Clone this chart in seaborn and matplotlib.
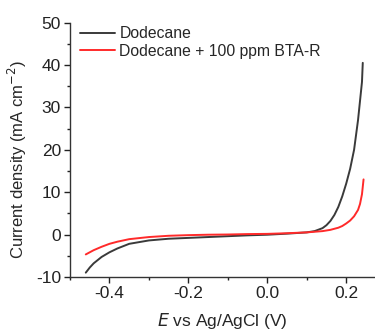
# Polarization curves: dodecane with and without BTA-R inhibitor

import numpy as np
import pandas as pd
import matplotlib
matplotlib.use("Agg")
import matplotlib.pyplot as plt
import seaborn as sns
from matplotlib.ticker import MultipleLocator

# Values
e_dodecane = [-0.46, -0.45, -0.44, -0.42, -0.40, -0.38, -0.35, -0.30, -0.25, -0.20, -0.15, -0.10, -0.05,
              0.00, 0.05, 0.10, 0.12, 0.14, 0.15, 0.16, 0.17, 0.18, 0.19, 0.20, 0.21, 0.22, 0.23, 0.24, 0.242]
j_dodecane = [-9.0, -7.8, -6.8, -5.3, -4.2, -3.3, -2.2, -1.4, -1.0, -0.8, -0.6, -0.4, -0.2,
              -0.05, 0.2, 0.5, 0.8, 1.5, 2.2, 3.2, 4.6, 6.5, 9.0, 12.0, 15.5, 20.0, 27.0, 36.0, 40.5]
e_bta = [-0.46, -0.44, -0.42, -0.40, -0.38, -0.35, -0.30, -0.25, -0.20, -0.15, -0.10, -0.05,
         0.00, 0.05, 0.10, 0.14, 0.16, 0.18, 0.19, 0.20, 0.21, 0.22, 0.23, 0.235, 0.24, 0.244]
j_bta = [-4.7, -3.7, -2.9, -2.2, -1.7, -1.1, -0.6, -0.3, -0.15, -0.05, 0.0, 0.1,
         0.15, 0.3, 0.5, 0.8, 1.1, 1.6, 2.0, 2.6, 3.3, 4.3, 5.8, 7.2, 9.5, 13.0]
labels = ["Dodecane", "Dodecane + 100 ppm BTA-R"]

df = pd.concat([
    pd.DataFrame({"E": e_dodecane, "j": j_dodecane, "sample": labels[0]}),
    pd.DataFrame({"E": e_bta, "j": j_bta, "sample": labels[1]}),
])

sns.set_style("ticks")
plt.rcParams["font.family"] = ["Liberation Sans", "DejaVu Sans"]
plt.rcParams["axes.unicode_minus"] = False

fig = plt.figure(figsize=(3.75, 3.32), dpi=100)
ax = fig.add_axes([70 / 375, 0.166, 1 - 70 / 375, 0.766])

sns.lineplot(data=df, x="E", y="j", hue="sample", palette=["#3a3a3a", "#ff2a2a"],
             linewidth=1.4, sort=False, estimator=None, ax=ax)

ax.set_xlim(-0.5, 0.273)
ax.set_ylim(-10, 50)
ax.xaxis.set_major_locator(MultipleLocator(0.2))
ax.xaxis.set_minor_locator(MultipleLocator(0.1))
ax.yaxis.set_major_locator(MultipleLocator(10))
ax.yaxis.set_minor_locator(MultipleLocator(5))
ax.xaxis.set_major_formatter(lambda v, p: f"{v:.1f}")
ax.tick_params(which="major", direction="out", length=4, width=1, labelsize=12.5,
               colors="#222222", pad=2.5)
ax.tick_params(which="minor", direction="out", length=2.5, width=1, colors="#222222")
for s in ["left", "bottom"]:
    ax.spines[s].set_color("#333333")
    ax.spines[s].set_linewidth(1)
sns.despine(ax=ax)

ax.set_xlabel("$E$ vs Ag/AgCl (V)", fontsize=12.5)
ax.set_ylabel("Current density (mA cm$^{-2}$)", fontsize=12)
ax.yaxis.set_label_coords(-0.135, 0.46)
ax.xaxis.set_label_coords(0.5, -0.135)
ax.legend(loc="upper left", frameon=False, fontsize=11.3, handlelength=2.2,
          handletextpad=0.3, borderaxespad=0.0, labelspacing=0.15,
          bbox_to_anchor=(0.013, 1.01))

fig.savefig("out.png", dpi=100)
